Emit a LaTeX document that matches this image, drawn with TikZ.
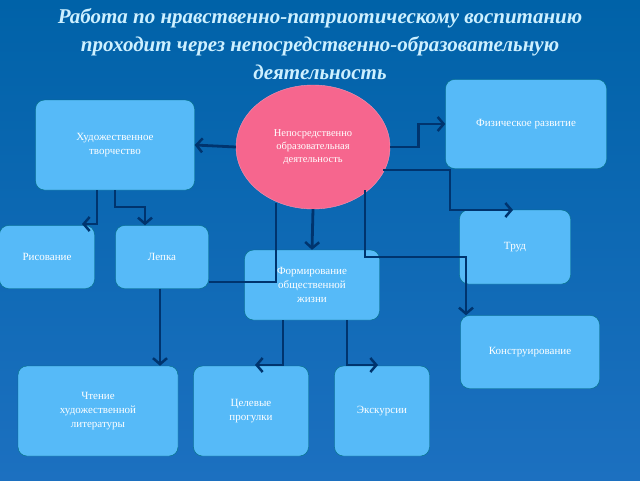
\documentclass[tikz,border=0pt]{standalone}
\usepackage{fontspec}
\setmainfont{Liberation Serif}
\usetikzlibrary{positioning, arrows.meta, shapes.geometric}
\definecolor{bgtop}{RGB}{0, 98, 168}
\definecolor{bgbottom}{RGB}{28, 112, 192}
\definecolor{boxcolor}{RGB}{86, 186, 248}
\definecolor{boxborder}{RGB}{0, 112, 128}
\definecolor{ovalcolor}{RGB}{246, 102, 142}
\definecolor{linkcolor}{RGB}{0, 52, 110}
\definecolor{titlecolor}{RGB}{205, 240, 255}

\begin{document}
\begin{tikzpicture}[
    x=1pt, y=-1pt,
    box/.style={rectangle, draw=boxborder, fill=boxcolor, rounded corners=9pt, align=center, text=white, font=\fontsize{11}{14}\selectfont, inner sep=2pt},
    oval/.style={ellipse, draw=ovalcolor!70!white, fill=ovalcolor, minimum width=154pt, minimum height=124pt, align=center, text=white, font=\fontsize{10.5}{13}\selectfont},
    arrow/.style={-{Straight Barb[length=6pt, width=14pt, line width=2.5pt]}, line width=2.8pt, draw=linkcolor},
    link/.style={line width=2.8pt, draw=linkcolor},
]

% ============ Background ============
\shade[top color=bgtop, bottom color=bgbottom] (0,0) rectangle (640,480);
\useasboundingbox (0,0) rectangle (640,480);

% ============ Title ============
\node[text=titlecolor, font=\fontsize{21}{28}\selectfont\bfseries\itshape, align=center, anchor=north] (title) at (320,5)
    {Работа по нравственно-патриотическому воспитанию\\проходит через непосредственно-образовательную\\деятельность};

% ============ Centre ============
\node[oval] (nod) at (313,147) {Непосредственно\\образовательная\\деятельность};

% ============ Boxes ============
\node[box, minimum width=159pt, minimum height=90pt] (art) at (115,145) {Художественное\\творчество};
\node[box, minimum width=161pt, minimum height=89pt] (phys) at (526,124) {Физическое развитие};
\node[box, minimum width=95pt, minimum height=63pt] (paint) at (47,257) {Рисование};
\node[box, minimum width=93pt, minimum height=63pt] (model) at (162,257) {Лепка};
\node[box, minimum width=135pt, minimum height=70pt] (social) at (312,285) {Формирование\\общественной\\жизни};
\node[box, minimum width=111pt, minimum height=74pt] (work) at (515,247) {Труд};
\node[box, minimum width=139pt, minimum height=73pt] (build) at (530,352) {Конструирование};
\node[box, minimum width=160pt, minimum height=90pt] (read) at (98,411) {Чтение\\художественной\\литературы};
\node[box, minimum width=115pt, minimum height=90pt] (walks) at (251,411) {Целевые\\прогулки};
\node[box, minimum width=95pt, minimum height=90pt] (trips) at (382,411) {Экскурсии};

% ============ Links ============
\coordinate (worktip) at (513,210);
\draw[arrow] (nod.west) -- (art.east);
\draw[arrow] (nod.east) -- ++(28,0) |- (phys.west);
\draw[arrow] (383,170) -- (450,170) -- (450,210) -- (worktip);
\draw[arrow] (365,190) -- (365,257) -- (466,257) -- (build.north -| 466,0);
\draw[arrow] (nod.south) -- (social.north);
\draw[link] (276,203) -- (276,282) -- (model.east |- 0,282);
\draw[arrow] (model.south -| 160,0) -- (read.north -| 160,0);

\draw[arrow] (art.south -| 97,0) -- (97,224) -- (82,224);
\draw[arrow] (art.south -| 115,0) -- (115,207) -- (145,207) -- (model.north -| 145,0);

\draw[arrow] (social.south -| 283,0) -- (283,365) -- (255,365);
\draw[arrow] (social.south -| 347,0) -- (347,365) -- (378,365);

\end{tikzpicture}
\end{document}
